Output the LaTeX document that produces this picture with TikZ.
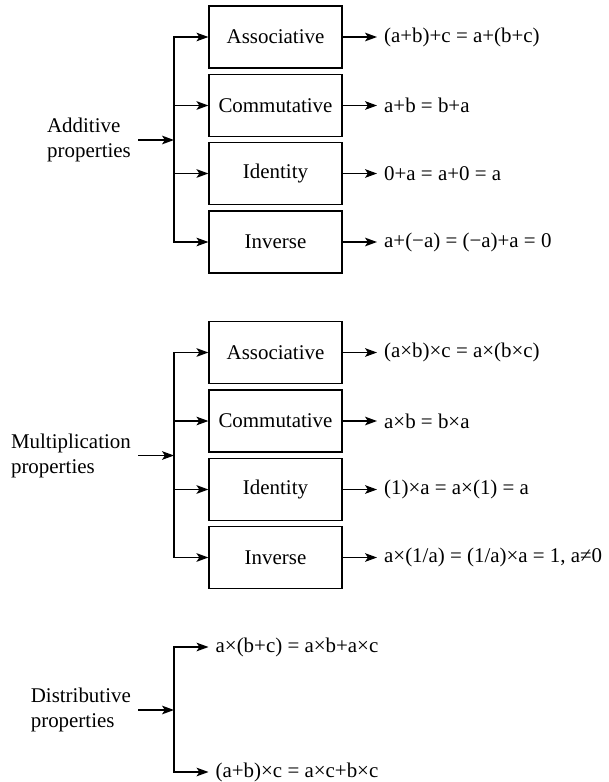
\documentclass[tikz,border=0pt]{standalone}
\usepackage{fontspec}
\setmainfont{Liberation Serif}
\usetikzlibrary{arrows.meta}

\tikzset{every picture/.style={line width=0.75pt}}
\tikzset{
  box/.style={draw, line width=0.9pt, minimum width=99.75pt, minimum height=46.5pt, inner sep=0pt, font=\fontsize{15.7}{18.8}\selectfont},
  conn/.style={line width=0.9pt, -{Stealth[length=9pt, width=6.5pt, inset=2.2pt]}},
  eq/.style={anchor=west, inner xsep=5pt, inner ysep=0.75pt, font=\fontsize{15.7}{18.8}\selectfont},
  src/.style={anchor=east, align=left, inner xsep=5pt, font=\fontsize{15.7}{18.8}\selectfont},
}

\begin{document}
\begin{tikzpicture}[x=0.75pt,y=0.75pt,yscale=-1,xscale=1]
\useasboundingbox (0,0) rectangle (608,782);

%Additive group
\node [src] (add) at (138,140) {Additive\\properties};
\coordinate (addbus) at (174,140);
\node [box] (assoc1) at (275.5,37) {Associative};
\node [box] (comm1) at (275.5,105.5) {Commutative};
\node [box] (ident1) at (275.5,173.5) {Identity};
\node [box] (inv1) at (275.5,242) {Inverse};
\node [eq] (assoceq1) at (377,37) {(a+b)+c = a+(b+c)};
\node [eq] (commeq1) at (377,105.5) {a+b = b+a};
\node [eq] (identeq1) at (377,173.5) {0+a = a+0 = a};
\node [eq] (inveq1) at (377,242) {a+(−a) = (−a)+a = 0};

\draw [conn] (add.east) -- (addbus);
\draw [conn] (addbus) |- (assoc1.west);
\draw [conn] (addbus) |- (comm1.west);
\draw [conn] (addbus) |- (ident1.west);
\draw [conn] (addbus) |- (inv1.west);
\draw [conn] (assoc1) -- (assoceq1);
\draw [conn] (comm1) -- (commeq1);
\draw [conn] (ident1) -- (identeq1);
\draw [conn] (inv1) -- (inveq1);

%Multiplication group
\node [src] (mul) at (138,455.5) {Multiplication\\properties};
\coordinate (mulbus) at (174,455.5);
\node [box] (assoc2) at (275.5,352.5) {Associative};
\node [box] (comm2) at (275.5,421) {Commutative};
\node [box] (ident2) at (275.5,489.5) {Identity};
\node [box] (inv2) at (275.5,557.5) {Inverse};
\node [eq] (assoceq2) at (377,352.5) {(a×b)×c = a×(b×c)};
\node [eq] (commeq2) at (377,421) {a×b = b×a};
\node [eq] (identeq2) at (377,489.5) {(1)×a = a×(1) = a};
\node [eq] (inveq2) at (377,557.5) {a×(1/a) = (1/a)×a = 1, a≠0};

\draw [conn] (mul.east) -- (mulbus);
\draw [conn] (mulbus) |- (assoc2.west);
\draw [conn] (mulbus) |- (comm2.west);
\draw [conn] (mulbus) |- (ident2.west);
\draw [conn] (mulbus) |- (inv2.west);
\draw [conn] (assoc2) -- (assoceq2);
\draw [conn] (comm2) -- (commeq2);
\draw [conn] (ident2) -- (identeq2);
\draw [conn] (inv2) -- (inveq2);

%Distributive group
\node [src] (dist) at (138,710) {Distributive\\properties};
\coordinate (distbus) at (174,710);
\node [eq] (disteq1) at (208.5,647) {a×(b+c) = a×b+a×c};
\node [eq] (disteq2) at (208.5,772) {(a+b)×c = a×c+b×c};

\draw [conn] (dist.east) -- (distbus);
\draw [conn] (distbus) |- (disteq1.west);
\draw [conn] (distbus) |- (disteq2.west);
\end{tikzpicture}
\end{document}
